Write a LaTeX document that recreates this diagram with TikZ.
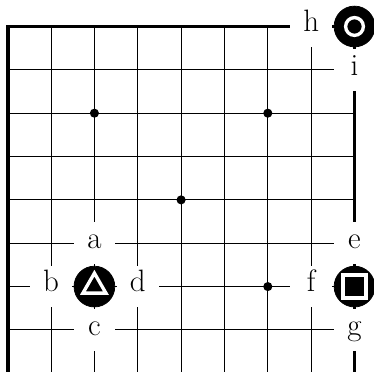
\documentclass[tikz,border=0pt]{standalone}
\begin{document}
\begin{tikzpicture}[x=1cm,y=-1cm,
  gridline/.style={line width=0.72pt,black},
  edgeline/.style={line width=2.4pt,black,line join=miter},
  hoshi/.style={fill=black},
  stone/.style={circle,fill=black,draw=black,line width=0.5pt,minimum size=0.94cm,inner sep=0pt},
  lab/.style={rectangle,fill=white,minimum size=0.96cm,inner sep=0pt,
    font=\fontsize{20.3pt}{24pt}\selectfont,text height=0.69em,text depth=0pt},
  whitemark/.style={draw=white,line width=2.2pt,line join=miter}]
\useasboundingbox (-0.178,-0.611) rectangle (8.45,7.97);
% grid
\foreach \i in {1,...,7} \draw[gridline] (\i,0) -- (\i,8.1);
\foreach \j in {1,...,7} \draw[gridline] (0,\j) -- (8,\j);
% board edges
\draw[edgeline] (0,8.1) -- (0,0) -- (8,0) -- (8,8.1);
% star points
\foreach \p in {(2,2),(6,2),(4,4),(6,6),(2,6)} \fill[hoshi] \p circle (0.105);
% stones
\node[stone] (sh) at (8,0) {};
\node[stone] (st) at (2,6) {};
\node[stone] (ss) at (8,6) {};
\draw[whitemark] (8,0) circle (0.205);
\draw[whitemark] (2,5.69) -- (1.735,6.15) -- (2.265,6.15) -- cycle;
\draw[whitemark] (7.735,5.735) rectangle (8.265,6.265);
% labels
\node[lab] (h) at (7,0) {h};
\node[lab] (i) at (8,1) {i};
\node[lab] (a) at (2,5) {a};
\node[lab] (b) at (1,6) {b};
\node[lab] (d) at (3,6) {d};
\node[lab] (c) at (2,7) {c};
\node[lab] (e) at (8,5) {e};
\node[lab] (f) at (7,6) {f};
\node[lab] (g) at (8,7) {g};
\end{tikzpicture}
\end{document}
